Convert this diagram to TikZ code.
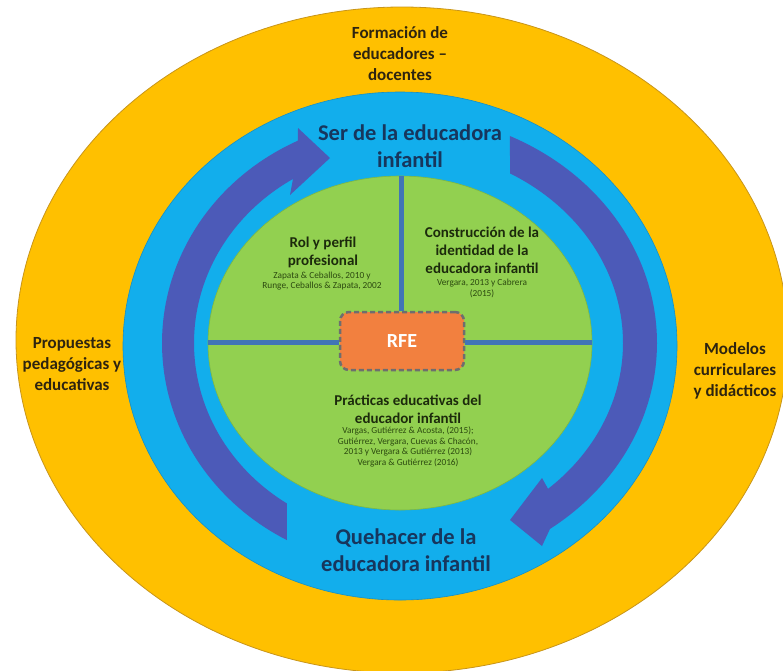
\documentclass[tikz,border=0pt]{standalone}
\usepackage{fontspec}
\setmainfont{Carlito}
\definecolor{gold}{HTML}{FFC000}
\definecolor{golddark}{HTML}{C8951A}
\definecolor{skyblue}{HTML}{12AEEC}
\definecolor{skydark}{HTML}{1590C6}
\definecolor{leafgreen}{HTML}{92D050}
\definecolor{leafdark}{HTML}{7DB843}
\definecolor{arrowblue}{HTML}{4C5AB8}
\definecolor{crossblue}{HTML}{4175B6}
\definecolor{rfeorange}{HTML}{F2803F}
\definecolor{rfeborder}{HTML}{6E6E6E}
\definecolor{outertext}{HTML}{2E2410}
\definecolor{navytext}{HTML}{17365D}
\definecolor{greentext}{HTML}{1C2A0C}
\definecolor{citetext}{HTML}{2C4A10}
\tikzset{
  outerlabel/.style={align=center, inner sep=0pt, text=outertext, font=\fontsize{17}{21}\selectfont\bfseries},
  ringlabel/.style={align=center, inner sep=0pt, text=navytext, font=\fontsize{22.5}{27.5}\selectfont\bfseries},
  greentitle/.style={align=center, inner sep=0pt, text=greentext, font=\fontsize{15}{18}\selectfont\bfseries},
  citelabel/.style={align=center, inner sep=0pt, text=citetext, font=\fontsize{9.3}{10.5}\selectfont},
  crossline/.style={draw=crossblue, line width=5pt, line cap=butt},
  arrowband/.style={fill=arrowblue},
  rfebox/.style={draw=rfeborder, fill=rfeorange, line width=2.5pt, dash pattern=on 5pt off 3pt,
    rounded corners=9pt, minimum width=124pt, minimum height=58pt, inner sep=0pt,
    text=white, font=\fontsize{20}{24}\selectfont\bfseries}
}
\begin{document}
\begin{tikzpicture}[x=1pt,y=-1pt]
\useasboundingbox (0,0) rectangle (783,670);
\clip (0,0) rectangle (783,670);
% rings
\filldraw[fill=gold, draw=golddark, line width=0.8pt] (402,340) ellipse [x radius=386, y radius=333];
\filldraw[fill=skyblue, draw=skydark, line width=0.6pt] (400,346) ellipse [x radius=277, y radius=254];
\filldraw[fill=leafgreen, draw=leafdark, line width=0.6pt] (400,343) ellipse [x radius=192, y radius=167];
% curved arrows
\fill[arrowband] plot[domain=118.4:244.6, samples=80] ({400+238*cos(\x)},{343+224*sin(\x)})
  -- (298,128) -- (330,158) -- (290,195)
  -- plot[domain=238.7:123.3, samples=80] ({400+206*cos(\x)},{343+192*sin(\x)}) -- cycle;
\fill[arrowband] plot[domain=-64.7:54.3, samples=80] ({400+257*cos(\x)},{343+229*sin(\x)})
  -- (542,546) -- (510,520) -- (542,478)
  -- plot[domain=48.4:-60.4, samples=80] ({400+223*cos(\x)},{343+195*sin(\x)}) -- cycle;
% centre box and cross
\node[rfebox] (rfe) at (402,341) {RFE};
\coordinate (vtop) at (401,176);
\coordinate (hleft) at (208,342);
\coordinate (hright) at (592,342);
\draw[crossline] (vtop) -- (rfe.north -| vtop);
\draw[crossline] (hleft) -- (rfe.west |- hleft);
\draw[crossline] (rfe.east |- hright) -- (hright);
% outer labels
\node[outerlabel] (formacion) at (400,54) {Formación de\\educadores --\\docentes};
\node[outerlabel] (propuestas) at (72,364) {Propuestas\\pedagógicas y\\educativas};
\node[outerlabel] (modelos) at (735,371) {Modelos\\curriculares\\y didácticos};
% ring labels
\node[ringlabel] (ser) at (410,146) {Ser de la educadora\\infantil};
\node[ringlabel] (quehacer) at (406,550) {Quehacer de la\\educadora infantil};
% green labels
\node[greentitle] (rol) at (323,252.5) {Rol y perfil\\profesional};
\node[citelabel] (rolcite) at (322,281) {Zapata \& Ceballos, 2010 y\\Runge, Ceballos \& Zapata, 2002};
\node[greentitle] (constr) at (482,250) {Construcción de la\\identidad de la\\educadora infantil};
\node[citelabel] (constrcite) at (482,288.5) {Vergara, 2013 y Cabrera\\(2015)};
\node[greentitle] (practicas) at (408,409) {Prácticas educativas del\\educador infantil};
\node[citelabel] (practicascite) at (408,447) {Vargas, Gutiérrez \& Acosta, (2015);\\Gutiérrez, Vergara, Cuevas \& Chacón,\\2013 y Vergara \& Gutiérrez (2013)\\Vergara \& Gutiérrez (2016)};
\end{tikzpicture}
\end{document}
